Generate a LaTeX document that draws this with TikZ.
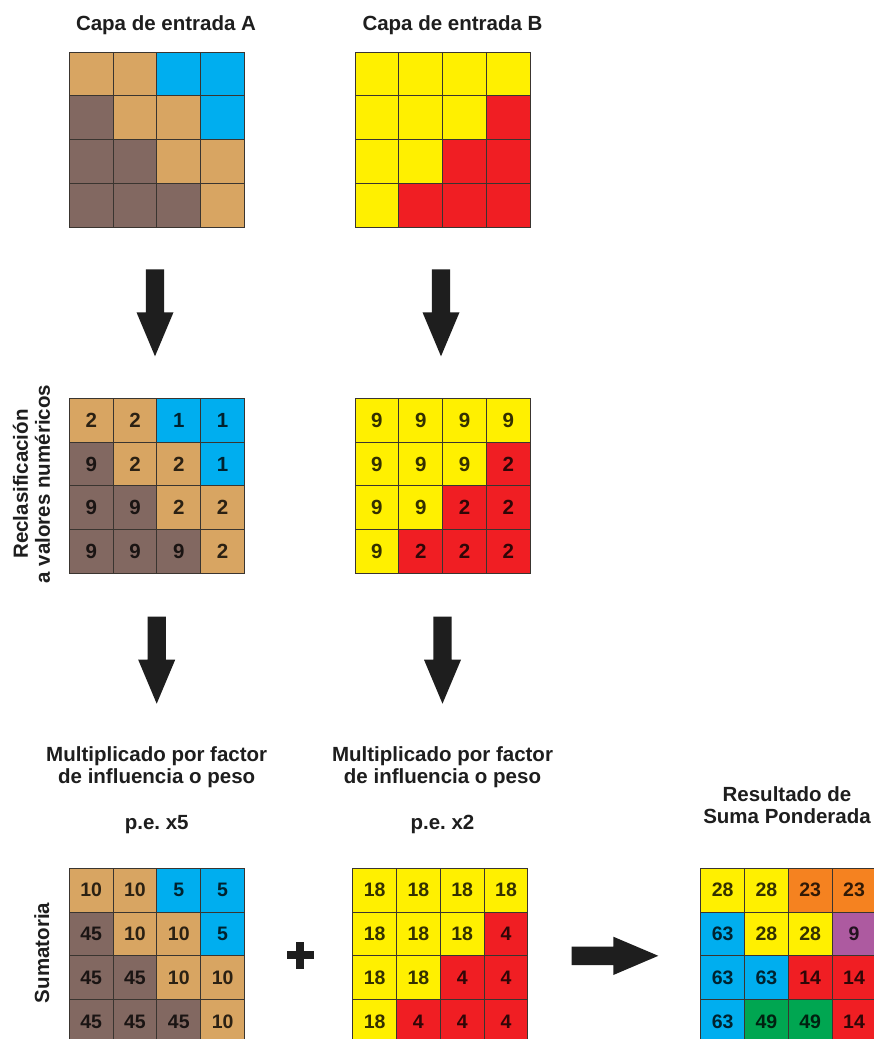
\documentclass[tikz,border=0pt]{standalone}
\usepackage{fontspec}
\setmainfont{Liberation Sans}
\frenchspacing
\definecolor{cTan}{HTML}{D8A562}
\definecolor{cBrn}{HTML}{826861}
\definecolor{cBlu}{HTML}{00AEEF}
\definecolor{cYel}{HTML}{FFF000}
\definecolor{cRed}{HTML}{F01E23}
\definecolor{cOrg}{HTML}{F58220}
\definecolor{cPur}{HTML}{AD5AA0}
\definecolor{cGrn}{HTML}{00A651}
\definecolor{cInk}{HTML}{1E1E1E}
\definecolor{cLine}{HTML}{3A3530}
\tikzset{
  cellbox/.style={draw=cLine, line width=0.9pt, minimum size=43.8pt, inner sep=0pt, outer sep=0pt,
    text=black, text opacity=0.8, font=\bfseries\fontsize{19.5}{20}\selectfont},
  bignum/.style={font=\bfseries\fontsize{20.5}{21}\selectfont},
  lbl/.style={text=cInk, font=\bfseries\fontsize{20.5}{22}\selectfont, inner sep=0pt},
  blockarrow/.style={fill=cInk},
}
\newcommand\mkgrid[5]{%
  \foreach \cc/\rr/\ff/\vv in {#5}{%
    \node[cellbox,#4,fill=\ff] (#1-\rr-\cc) at ({#2+(\cc-0.5)*43.8},{#3+(\rr-0.5)*43.8}) {\vv};
  }}
\newcommand\downblock[2]{%
  \fill[blockarrow] ({#1-9.2},#2) -- ({#1+9.2},#2) -- ({#1+9.2},{#2+43}) -- ({#1+18.5},{#2+43})
    -- (#1,{#2+87}) -- ({#1-18.5},{#2+43}) -- ({#1-9.2},{#2+43}) -- cycle;}
\begin{document}
\begin{tikzpicture}[x=1pt,y=-1pt]
\clip (0,0) rectangle (874,1039);
\fill[white] (0,0) rectangle (874,1039);

% titles
\node[lbl, anchor=base] (tA) at (166,30.5) {Capa de entrada A};
\node[lbl, anchor=base] (tB) at (452.5,30.5) {Capa de entrada B};

% input layers
\mkgrid{LA}{69.3}{52}{}{1/1/cTan/{},2/1/cTan/{},3/1/cBlu/{},4/1/cBlu/{},
  1/2/cBrn/{},2/2/cTan/{},3/2/cTan/{},4/2/cBlu/{},
  1/3/cBrn/{},2/3/cBrn/{},3/3/cTan/{},4/3/cTan/{},
  1/4/cBrn/{},2/4/cBrn/{},3/4/cBrn/{},4/4/cTan/{}}
\mkgrid{LB}{355}{52}{}{1/1/cYel/{},2/1/cYel/{},3/1/cYel/{},4/1/cYel/{},
  1/2/cYel/{},2/2/cYel/{},3/2/cYel/{},4/2/cRed/{},
  1/3/cYel/{},2/3/cYel/{},3/3/cRed/{},4/3/cRed/{},
  1/4/cYel/{},2/4/cRed/{},3/4/cRed/{},4/4/cRed/{}}

% arrows row 1
\downblock{155}{269.3}
\downblock{441}{269.3}

% reclassification
\node[lbl, rotate=90, align=center] (rc) at (31.5,484) {Reclasificación\\a valores numéricos};
\mkgrid{RA}{69.3}{398.3}{bignum}{1/1/cTan/2,2/1/cTan/2,3/1/cBlu/1,4/1/cBlu/1,
  1/2/cBrn/9,2/2/cTan/2,3/2/cTan/2,4/2/cBlu/1,
  1/3/cBrn/9,2/3/cBrn/9,3/3/cTan/2,4/3/cTan/2,
  1/4/cBrn/9,2/4/cBrn/9,3/4/cBrn/9,4/4/cTan/2}
\mkgrid{RB}{355}{398.3}{bignum}{1/1/cYel/9,2/1/cYel/9,3/1/cYel/9,4/1/cYel/9,
  1/2/cYel/9,2/2/cYel/9,3/2/cYel/9,4/2/cRed/2,
  1/3/cYel/9,2/3/cYel/9,3/3/cRed/2,4/3/cRed/2,
  1/4/cYel/9,2/4/cRed/2,3/4/cRed/2,4/4/cRed/2}

% arrows row 2
\downblock{156.7}{616.7}
\downblock{442.5}{616.7}

% weight labels
\node[lbl, anchor=base] (mA1) at (156.7,761.4) {Multiplicado por factor};
\node[lbl, anchor=base] (mA2) at (156.7,783) {de influencia o peso};
\node[lbl, anchor=base] (pA) at (156.7,829.7) {p.e. x5};
\node[lbl, anchor=base] (mB1) at (442.5,761.4) {Multiplicado por factor};
\node[lbl, anchor=base] (mB2) at (442.5,783) {de influencia o peso};
\node[lbl, anchor=base] (pB) at (442.5,829.7) {p.e. x2};
\node[lbl, anchor=base] (r1) at (787,801.4) {Resultado de};
\node[lbl, anchor=base] (r2) at (787,823) {Suma Ponderada};

% weighted grids
\node[lbl, rotate=90] (sum) at (41.7,953) {Sumatoria};
\mkgrid{WA}{69.3}{868.3}{}{1/1/cTan/10,2/1/cTan/10,3/1/cBlu/5,4/1/cBlu/5,
  1/2/cBrn/45,2/2/cTan/10,3/2/cTan/10,4/2/cBlu/5,
  1/3/cBrn/45,2/3/cBrn/45,3/3/cTan/10,4/3/cTan/10,
  1/4/cBrn/45,2/4/cBrn/45,3/4/cBrn/45,4/4/cTan/10}
\mkgrid{WB}{352.7}{868.3}{}{1/1/cYel/18,2/1/cYel/18,3/1/cYel/18,4/1/cYel/18,
  1/2/cYel/18,2/2/cYel/18,3/2/cYel/18,4/2/cRed/4,
  1/3/cYel/18,2/3/cYel/18,3/3/cRed/4,4/3/cRed/4,
  1/4/cYel/18,2/4/cRed/4,3/4/cRed/4,4/4/cRed/4}
\mkgrid{RS}{700.7}{868.3}{}{1/1/cYel/28,2/1/cYel/28,3/1/cOrg/23,4/1/cOrg/23,
  1/2/cBlu/63,2/2/cYel/28,3/2/cYel/28,4/2/cPur/9,
  1/3/cBlu/63,2/3/cBlu/63,3/3/cRed/14,4/3/cRed/14,
  1/4/cBlu/63,2/4/cGrn/49,3/4/cGrn/49,4/4/cRed/14}

% plus sign
\fill[cInk] (286.5,951) rectangle (313.5,959);
\fill[cInk] (296,941.5) rectangle (304,968.5);

% result arrow
\fill[blockarrow] (571.7,946.7) -- (613.3,946.7) -- (613.3,936.7) -- (658.3,955.8)
  -- (613.3,975) -- (613.3,965) -- (571.7,965) -- cycle;
\end{tikzpicture}
\end{document}
